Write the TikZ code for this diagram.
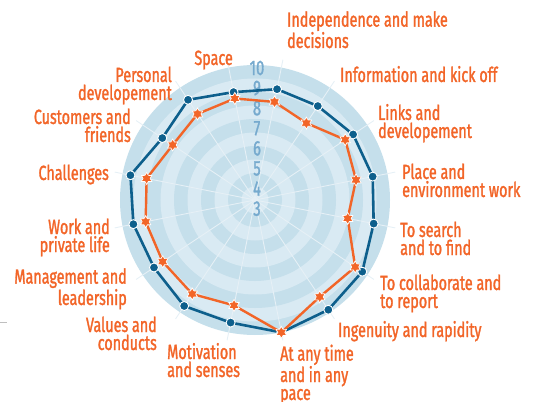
\documentclass[tikz,border=0pt]{standalone}
\usepackage{fontspec}
\setmainfont{Fira Sans}[FakeStretch=0.70, FakeBold=1.4]
\definecolor{lineblue}{RGB}{13, 95, 140}
\definecolor{lineorange}{RGB}{242, 101, 40}
\definecolor{ringdark}{RGB}{197, 223, 235}
\definecolor{ringlight}{RGB}{217, 234, 243}
\definecolor{spokewhite}{RGB}{230, 240, 246}
\definecolor{scaleblue}{RGB}{118, 170, 206}
\usetikzlibrary{shapes.geometric}
\tikzset{
  axislabel/.style={text=lineorange, inner sep=0pt, font=\fontsize{20.5}{18}\selectfont},
  scalelabel/.style={text=scaleblue, inner sep=0pt, font=\fontsize{21}{18}\selectfont},
  bluedot/.style={circle, fill=lineblue, draw=white, line width=0.9pt, minimum size=9pt, inner sep=0pt},
  orangestar/.style={star, star points=6, star point ratio=1.7, fill=lineorange, draw=white, line width=0.7pt, minimum size=12pt, inner sep=0pt}
}

\begin{document}
\begin{tikzpicture}[x=1pt, y=1pt]
  \useasboundingbox (-255,-201) rectangle (279,200);
  \coordinate (ctr) at (0,0);
  % rings
  \foreach \r/\c in {10/ringdark, 9/ringlight, 8/ringdark, 7/ringlight, 6/ringdark, 5/ringlight, 4/ringdark, 3/ringlight, 2/ringdark, 1/ringlight}
    \fill[\c] (ctr) circle ({13.5*\r});
  \foreach \a in {0,...,15}
    \draw[spokewhite, line width=0.9pt] (ctr) -- ({101.25-22.5*\a}:143);
  % scale
  \foreach \v in {10,9,...,3}
    \node[scalelabel] (s\v) at (2, {132-20.1*(10-\v)}) {\v};
  % data
  \foreach \rb/\ro [count=\i] in {110/103.5, 113/100, 113/92.5, 118/108.5, 120/103, 121/94.5, 129/120.5, 132/116.5, 135/135, 125/107.5, 127.5/113, 121.5/111, 124/111.5, 127/110.5, 111.5/99, 120.5/103.5} {
    \coordinate (b\i) at ({101.25-22.5*(\i-1)}:\rb);
    \coordinate (o\i) at ({101.25-22.5*(\i-1)}:\ro);
  }
  \draw[lineblue, line width=2.6pt, line join=round] (b1) -- (b2) -- (b3) -- (b4) -- (b5) -- (b6) -- (b7) -- (b8) -- (b9) -- (b10) -- (b11) -- (b12) -- (b13) -- (b14) -- (b15) -- (b16) -- cycle;
  \foreach \i in {1,...,16}
    \node[bluedot] (bd\i) at (b\i) {};
  \draw[lineorange, line width=2.4pt, line join=round] (o1) -- (o2) -- (o3) -- (o4) -- (o5) -- (o6) -- (o7) -- (o8) -- (o9) -- (o10) -- (o11) -- (o12) -- (o13) -- (o14) -- (o15) -- (o16) -- cycle;
  \foreach \i in {1,...,16}
    \node[orangestar] (os\i) at (o\i) {};
  % labels (base = last line)
  \node[axislabel, anchor=base east, align=right] (space) at (-22, 135) {Space};
  \node[axislabel, anchor=base east, align=right] (personal) at (-83, 100) {Personal\\developement};
  \node[axislabel, anchor=base east, align=right] (customers) at (-124, 58) {Customers and\\friends};
  \node[axislabel, anchor=base east, align=right] (challenges) at (-146, 20) {Challenges};
  \node[axislabel, anchor=base east, align=right] (work) at (-145, -52) {Work and\\private life};
  \node[axislabel, anchor=base east, align=right] (management) at (-128, -105) {Management and\\leadership};
  \node[axislabel, anchor=base east, align=right] (values) at (-98, -150) {Values and\\conducts};
  \node[axislabel, anchor=base west, align=left] (motivation) at (-88, -177) {Motivation\\and senses};
  \node[axislabel, anchor=base west, align=left] (anytime) at (25, -200) {At any time\\and in any\\pace};
  \node[axislabel, anchor=base west, align=left] (ingenuity) at (83, -137) {Ingenuity and rapidity};
  \node[axislabel, anchor=base west, align=left] (collaborate) at (125, -108) {To collaborate and\\to report};
  \node[axislabel, anchor=base west, align=left] (search) at (145, -55) {To search\\and to find};
  \node[axislabel, anchor=base west, align=left] (place) at (147, 3) {Place and\\environment work};
  \node[axislabel, anchor=base west, align=left] (links) at (123, 62) {Links and\\developement};
  \node[axislabel, anchor=base west, align=left] (information) at (85, 118) {Information and kick off};
  \node[axislabel, anchor=base west, align=left] (independence) at (32, 152) {Independence and make\\decisions};
  \draw[gray!50, line width=0.8pt] (-255,-122) -- (-248,-122);
\end{tikzpicture}
\end{document}
